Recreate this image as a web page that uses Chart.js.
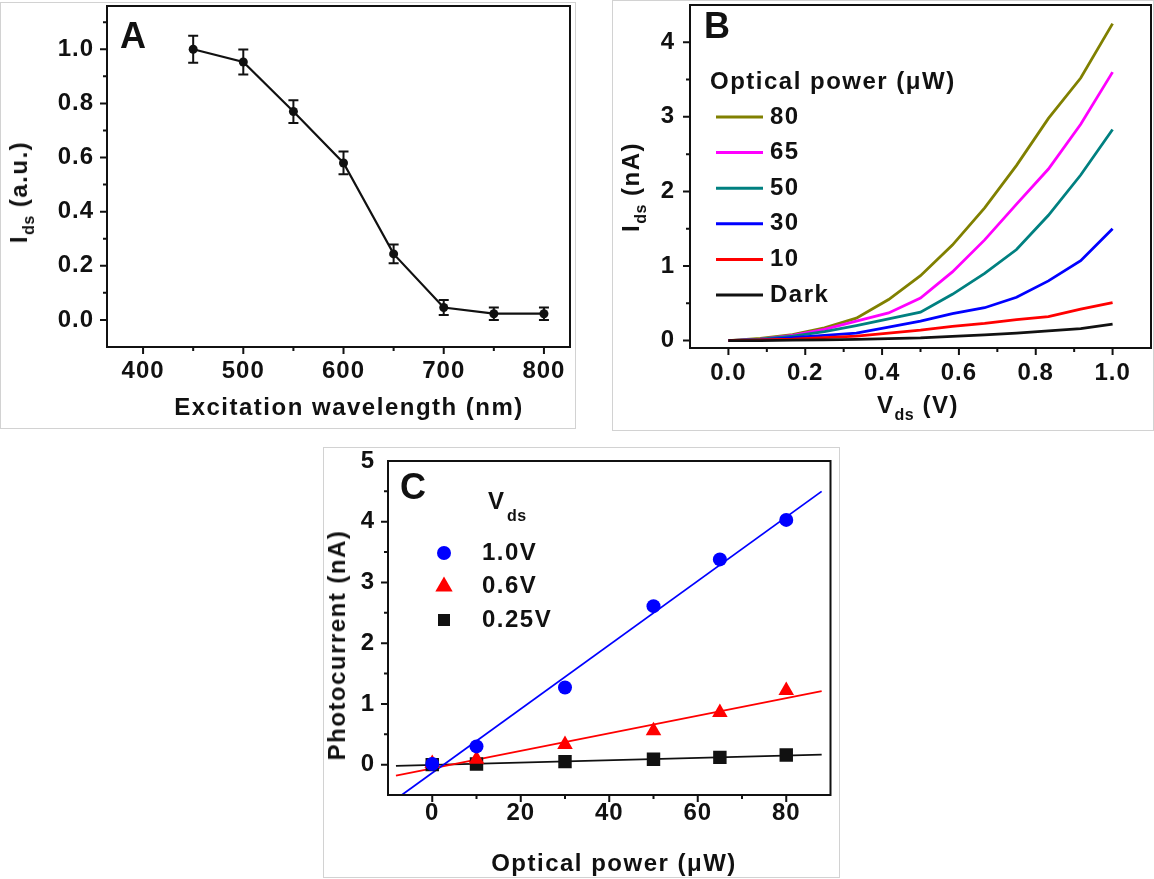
<!DOCTYPE html>
<html>
<head>
<meta charset="utf-8">
<script src="https://cdn.jsdelivr.net/npm/chart.js@4.4.0/dist/chart.umd.min.js"></script>
<style>
  body { margin: 0; background: #fff; }
  #page { position: relative; width: 1154px; height: 879px; overflow: hidden;
          font-family: 'Liberation Sans', Arial, sans-serif; font-weight: bold; color: #111; }
  .box { position: absolute; box-sizing: border-box; border: 1px solid #d2d2d2; }
  canvas { position: absolute; }
  .t { position: absolute; white-space: nowrap; font-size: 24px; letter-spacing: 1.5px;
       transform: translate(-50%, -50%); line-height: 1; }
  .t sub { font-size: 16px; vertical-align: -7px; letter-spacing: 0.5px; }
  .rot { transform: translate(-50%, -50%) rotate(-90deg); }
  .letter { font-size: 36px; letter-spacing: 0; }
</style>
</head>
<body>
<div id="page">
  <div class="box" style="left:0;top:2px;width:576px;height:427px"></div>
  <div class="box" style="left:612px;top:0;width:542px;height:431px"></div>
  <div class="box" style="left:323px;top:447px;width:517px;height:431px"></div>

  <canvas id="chartA" width="590" height="420" style="left:0;top:0"></canvas>
  <canvas id="chartB" width="541" height="420" style="left:613px;top:0"></canvas>
  <canvas id="chartC" width="516" height="424" style="left:324px;top:444px"></canvas>

  <div class="t letter" style="left:133px;top:36px">A</div>
  <div class="t letter" style="left:717px;top:26px">B</div>
  <div class="t letter" style="left:413px;top:487px">C</div>

  <div class="t rot" style="left:22px;top:192px">I<sub>ds</sub> (a.u.)</div>
  <div class="t" style="left:349px;top:407px">Excitation wavelength (nm)</div>
  <div class="t rot" style="left:634px;top:187px">I<sub>ds</sub> (nA)</div>
  <div class="t" style="left:918px;top:408px">V<sub>ds</sub> (V)</div>
  <div class="t rot" style="left:337px;top:645px">Photocurrent (nA)</div>
  <div class="t" style="left:614px;top:863px">Optical power (&mu;W)</div>
</div>

<script>
// ---- panel A: normalised photocurrent vs wavelength
const aWave = [450, 500, 550, 600, 650, 700, 750, 800];
const aIds = [1.0, 0.953, 0.77, 0.58, 0.244, 0.046, 0.023, 0.023];
const aErr = [0.05, 0.046, 0.042, 0.042, 0.035, 0.028, 0.023, 0.023];
const aXTicks = [400, 500, 600, 700, 800];
const aXLabels = ['400', '500', '600', '700', '800'];
const aYTicks = [0, 0.2, 0.4, 0.6, 0.8, 1.0];
const aYLabels = ['0.0', '0.2', '0.4', '0.6', '0.8', '1.0'];

// ---- panel B: Ids-Vds curves for several optical powers
const bVds = [0, 0.083, 0.167, 0.25, 0.333, 0.417, 0.5, 0.583, 0.667, 0.75, 0.833, 0.917, 1.0];
const bDark = [0, 0, 0.005, 0.01, 0.015, 0.025, 0.035, 0.055, 0.075, 0.1, 0.13, 0.16, 0.22];
const b10 = [0, 0.01, 0.02, 0.04, 0.06, 0.1, 0.14, 0.19, 0.23, 0.28, 0.32, 0.42, 0.51];
const b30 = [0, 0.01, 0.04, 0.07, 0.1, 0.18, 0.26, 0.36, 0.44, 0.58, 0.8, 1.07, 1.5];
const b50 = [0, 0.02, 0.06, 0.12, 0.2, 0.29, 0.38, 0.62, 0.9, 1.22, 1.68, 2.22, 2.83];
const b65 = [0, 0.02, 0.07, 0.15, 0.26, 0.37, 0.57, 0.92, 1.35, 1.83, 2.3, 2.9, 3.6];
const b80 = [0, 0.03, 0.08, 0.17, 0.3, 0.55, 0.87, 1.28, 1.78, 2.35, 2.98, 3.52, 4.25];
const bLabels = ['Dark', '10', '30', '50', '65', '80'];
const bXTicks = [0, 0.2, 0.4, 0.6, 0.8, 1.0];
const bXLabels = ['0.0', '0.2', '0.4', '0.6', '0.8', '1.0'];
const bYTicks = [0, 1, 2, 3, 4];
const bYLabels = ['0', '1', '2', '3', '4'];

// ---- panel C: photocurrent vs optical power
const cPower = [0, 10, 30, 50, 65, 80];
const c10V = [0.01, 0.30, 1.27, 2.61, 3.38, 4.03];
const c06V = [0.02, 0.09, 0.33, 0.56, 0.86, 1.22];
const c025V = [0.0, 0.01, 0.05, 0.09, 0.12, 0.16];
// fitted lines, end points
const cFit10X = [-6.9, 88];
const cFit10Y = [-0.5, 4.5];
const cFit06X = [-8.2, 88];
const cFit06Y = [-0.18, 1.21];
const cFit025X = [-8.2, 88];
const cFit025Y = [-0.02, 0.165];
const cLabels = ['1.0V', '0.6V', '0.25V'];
const cXTicks = [0, 20, 40, 60, 80];
const cXLabels = ['0', '20', '40', '60', '80'];
const cYTicks = [0, 1, 2, 3, 4, 5];
const cYLabels = ['0', '1', '2', '3', '4', '5'];

Chart.defaults.font.family = "'Liberation Sans', Arial, sans-serif";
Chart.defaults.font.weight = 'bold';
Chart.defaults.font.size = 24;
Chart.defaults.color = '#111';

const pts = (xs, ys) => xs.map((x, i) => ({ x: x, y: ys[i] }));

function axis(ticks, labels, min, max, size, pad, horiz) {
  return {
    type: 'linear', min: min, max: max,
    grid: { display: false, drawTicks: false },
    border: { display: false },
    afterBuildTicks: s => { s.ticks = ticks.map(v => ({ value: v })); },
    afterFit: s => {
      if (horiz) s.height = size; else s.width = size;
      // no label overhang padding, the plot area is placed by layout.padding
      s.paddingTop = 0; s.paddingBottom = 0; s.paddingLeft = 0; s.paddingRight = 0;
    },
    ticks: { padding: pad, autoSkip: false, maxRotation: 0, minRotation: 0,
             font: { size: 24, weight: 'bold' }, color: '#111',
             callback: (v, i) => labels[i] }
  };
}

// box + major/minor tick marks on the bottom and left axes
const frame = {
  id: 'frame',
  beforeDraw(chart) { chart.ctx.letterSpacing = '1px'; },
  afterDatasetsDraw(chart, args, o) {
    const ctx = chart.ctx, a = chart.chartArea;
    ctx.save();
    ctx.strokeStyle = '#111';
    ctx.lineWidth = 2;
    ctx.strokeRect(a.left, a.top, a.right - a.left, a.bottom - a.top);
    ctx.beginPath();
    [['x', o.xStep], ['y', o.yStep]].forEach(([id, step]) => {
      const s = chart.scales[id];
      const first = s.ticks[0].value;
      for (let k = -40; k < 80; k++) {
        const v = first + k * step / 2;
        if (v <= s.min + 1e-9 || v >= s.max - 1e-9) continue;
        const len = k % 2 === 0 ? 7 : 4;
        const p = s.getPixelForValue(v);
        if (id === 'x') { ctx.moveTo(p, a.bottom); ctx.lineTo(p, a.bottom + len); }
        else { ctx.moveTo(a.left, p); ctx.lineTo(a.left - len, p); }
      }
    });
    ctx.stroke();
    ctx.restore();
  }
};

const errorBars = {
  id: 'errorBars',
  afterDatasetsDraw(chart) {
    const ctx = chart.ctx, y = chart.scales.y;
    const meta = chart.getDatasetMeta(0);
    ctx.save();
    ctx.strokeStyle = '#111';
    ctx.lineWidth = 2;
    ctx.beginPath();
    meta.data.forEach((p, i) => {
      const t = y.getPixelForValue(aIds[i] + aErr[i]);
      const b = y.getPixelForValue(aIds[i] - aErr[i]);
      ctx.moveTo(p.x, t); ctx.lineTo(p.x, b);
      ctx.moveTo(p.x - 5, t); ctx.lineTo(p.x + 5, t);
      ctx.moveTo(p.x - 5, b); ctx.lineTo(p.x + 5, b);
    });
    ctx.stroke();
    ctx.restore();
  }
};

function drawMarker(ctx, style, x, y, r, color) {
  ctx.fillStyle = color;
  ctx.beginPath();
  if (style === 'circle') {
    ctx.arc(x, y, r, 0, Math.PI * 2);
  } else if (style === 'triangle') {
    ctx.moveTo(x, y - r);
    ctx.lineTo(x + r * 0.866, y + r / 2);
    ctx.lineTo(x - r * 0.866, y + r / 2);
    ctx.closePath();
  } else {
    const s = r * Math.SQRT1_2;
    ctx.rect(x - s, y - s, 2 * s, 2 * s);
  }
  ctx.fill();
}

// legend drawn inside the plot area
const innerLegend = {
  id: 'innerLegend',
  afterDraw(chart, args, o) {
    const ctx = chart.ctx;
    ctx.save();
    ctx.fillStyle = '#111';
    ctx.textBaseline = 'middle';
    ctx.textAlign = 'left';
    ctx.font = "bold 24px 'Liberation Sans', Arial, sans-serif";
    ctx.letterSpacing = '1.5px';
    ctx.fillText(o.title, o.tx, o.ty);
    if (o.sub) {
      ctx.font = "bold 16px 'Liberation Sans', Arial, sans-serif";
      ctx.letterSpacing = '0.5px';
      ctx.fillText(o.sub, o.tx + 19, o.ty + 15);
      ctx.font = "bold 24px 'Liberation Sans', Arial, sans-serif";
      ctx.letterSpacing = '1.5px';
    }
    o.items.forEach((idx, row) => {
      const ds = chart.data.datasets[idx];
      const y = o.y0 + row * o.dy;
      if (o.kind === 'line') {
        ctx.strokeStyle = ds.borderColor;
        ctx.lineWidth = 3;
        ctx.beginPath();
        ctx.moveTo(o.x0, y); ctx.lineTo(o.x1, y);
        ctx.stroke();
      } else {
        drawMarker(ctx, ds.pointStyle, o.mx, y, o.mr[row], ds.backgroundColor);
      }
      ctx.fillStyle = '#111';
      ctx.fillText(ds.label, o.textX, y);
    });
    ctx.restore();
  }
};

const base = {
  responsive: false,
  animation: false,
  events: [],
  plugins: { legend: { display: false }, tooltip: { enabled: false } }
};

// panel A
new Chart(document.getElementById('chartA'), {
  type: 'scatter',
  data: {
    datasets: [{
      data: pts(aWave, aIds),
      showLine: true,
      borderColor: '#111',
      backgroundColor: '#111',
      borderWidth: 2.2,
      pointRadius: 4.5,
      pointBorderWidth: 0
    }]
  },
  options: Object.assign({}, base, {
    layout: { padding: { left: 0, top: 6, right: 20, bottom: 0 } },
    scales: {
      x: axis(aXTicks, aXLabels, 364, 826, 73, 10, true),
      y: axis(aYTicks, aYLabels, -0.1, 1.16, 107, 13, false)
    },
    plugins: Object.assign({}, base.plugins, { frame: { xStep: 100, yStep: 0.2 } })
  }),
  plugins: [frame, errorBars]
});

// panel B
const bColors = ['#111111', '#ff0000', '#0000ff', '#008080', '#ff00ff', '#808000'];
const bSeries = [bDark, b10, b30, b50, b65, b80];
new Chart(document.getElementById('chartB'), {
  type: 'scatter',
  data: {
    datasets: bSeries.map((s, i) => ({
      label: bLabels[i],
      data: pts(bVds, s),
      showLine: true,
      borderColor: bColors[i],
      backgroundColor: bColors[i],
      borderWidth: 2.8,
      pointRadius: 0
    }))
  },
  options: Object.assign({}, base, {
    layout: { padding: { left: 0, top: 5, right: 3, bottom: 0 } },
    scales: {
      x: axis(bXTicks, bXLabels, -0.1, 1.1, 72, 11, true),
      y: axis(bYTicks, bYLabels, -0.1, 4.5, 77, 15, false)
    },
    plugins: Object.assign({}, base.plugins, {
      frame: { xStep: 0.2, yStep: 1 },
      innerLegend: { kind: 'line', title: 'Optical power (\u03bcW)', tx: 97, ty: 82,
                     items: [5, 4, 3, 2, 1, 0], x0: 103, x1: 150, textX: 157, y0: 117, dy: 35.6 }
    })
  }),
  plugins: [frame, innerLegend]
});

// panel C
const cFit = (xs, ys, color, order) => ({
  label: '', data: pts(xs, ys), showLine: true, borderColor: color,
  borderWidth: 1.8, pointRadius: 0, order: order
});
new Chart(document.getElementById('chartC'), {
  type: 'scatter',
  data: {
    datasets: [
      { label: cLabels[0], data: pts(cPower, c10V), pointStyle: 'circle', pointRadius: 7,
        backgroundColor: '#0000ff', borderColor: '#0000ff', pointBorderWidth: 0, order: 1 },
      { label: cLabels[1], data: pts(cPower, c06V), pointStyle: 'triangle', pointRadius: 9,
        backgroundColor: '#ff0000', borderColor: '#ff0000', pointBorderWidth: 0, order: 2 },
      { label: cLabels[2], data: pts(cPower, c025V), pointStyle: 'rect', pointRadius: 9.5,
        backgroundColor: '#111111', borderColor: '#111111', pointBorderWidth: 0, order: 3 },
      cFit(cFit10X, cFit10Y, '#0000ff', 4),
      cFit(cFit06X, cFit06Y, '#ff0000', 5),
      cFit(cFit025X, cFit025Y, '#111111', 6)
    ]
  },
  options: Object.assign({}, base, {
    layout: { padding: { left: 0, top: 17, right: 1, bottom: 0 } },
    scales: {
      x: axis(cXTicks, cXLabels, -10, 90, 73, 4, true),
      y: axis(cYTicks, cYLabels, -0.5, 5, 64, 13, false)
    },
    plugins: Object.assign({}, base.plugins, {
      frame: { xStep: 20, yStep: 1 },
      innerLegend: { kind: 'marker', title: 'V', sub: 'ds', tx: 164, ty: 58,
                     items: [0, 1, 2], mx: 120, mr: [7, 10, 8.5], textX: 158, y0: 109, dy: 33.5 }
    })
  }),
  plugins: [frame, innerLegend]
});
</script>
</body>
</html>
